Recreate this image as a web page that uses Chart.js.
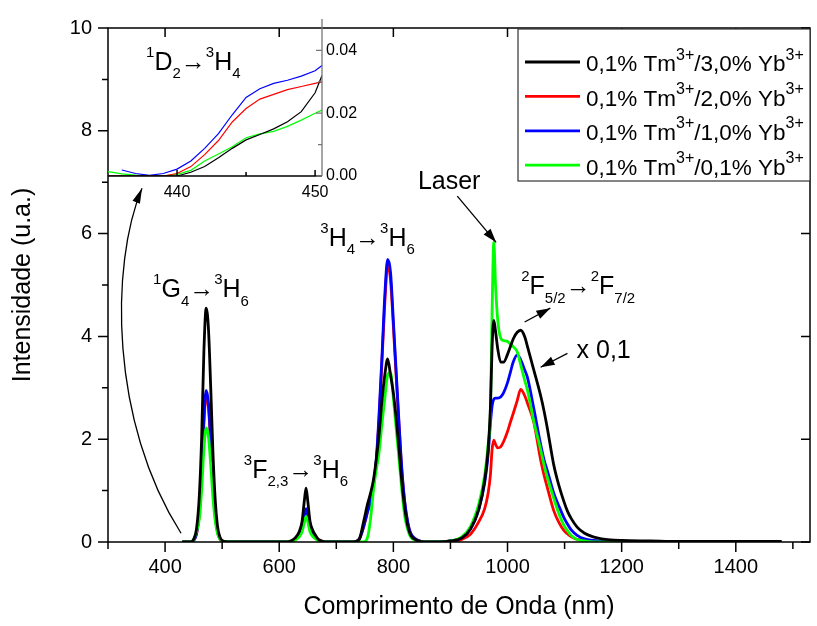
<!DOCTYPE html>
<html>
<head>
<meta charset="utf-8">
<script src="https://cdn.jsdelivr.net/npm/chart.js@4.4.0/dist/chart.umd.min.js"></script>
<style>
  html, body { margin: 0; padding: 0; background: #fff; }
  #wrap { position: relative; width: 817px; height: 626px; }
  #wrap canvas { position: absolute; left: 0; top: 0; }
</style>
</head>
<body>
<div id="wrap">
  <canvas id="main" width="817" height="626"></canvas>
  <canvas id="inset" width="817" height="626"></canvas>
</div>
<script>
const FONT = "'Liberation Sans', Arial, Helvetica, sans-serif";

// wavelength grid (nm), shared by the four spectra
const wavelength = [
  430, 440, 445, 450, 455, 460, 464, 468, 472, 476, 480, 484, 488, 492, 496, 502, 520,
  560, 600, 610, 620, 628, 635, 640, 644, 647, 650, 654, 658, 663, 668, 675, 685, 700,
  730, 740, 748, 755, 760, 765, 770, 775, 780, 785, 790, 795, 800, 805, 810, 815, 820, 825, 830, 840, 860,
  880, 900, 920, 935, 950, 960, 966, 970, 973, 976, 979, 983, 988, 993, 1000, 1005, 1010, 1017, 1023, 1030,
  1035, 1046, 1058, 1064, 1070, 1081, 1090, 1099, 1105, 1112, 1122, 1135, 1150, 1165, 1180, 1200, 1250, 1300, 1400, 1480
];

// 0,1% Tm / 3,0% Yb
const tm01_yb30 = [
  0, 0, 0, 0.05, 0.25, 0.9, 2.0, 3.7, 4.55, 4.15, 3.0, 1.7, 0.8, 0.3, 0.1, 0.02, 0,
  0, 0, 0, 0.02, 0.08, 0.2, 0.4, 0.8, 1.05, 0.8, 0.4, 0.25, 0.14, 0.06, 0.02, 0, 0,
  0, 0.05, 0.4, 0.75, 0.95, 1.2, 1.6, 2.1, 2.75, 3.25, 3.56, 3.25, 2.9, 2.4, 1.8, 1.15, 0.65, 0.32, 0.14, 0.04, 0,
  0, 0.02, 0.08, 0.25, 0.65, 1.2, 1.8, 2.6, 3.8, 4.31, 4.1, 3.75, 3.5, 3.5, 3.65, 3.8, 3.95, 4.08, 4.12, 4.0,
  3.8, 3.35, 2.85, 2.55, 2.2, 1.5, 1.1, 0.78, 0.6, 0.45, 0.29, 0.17, 0.1, 0.06, 0.04, 0.03, 0.02, 0.01, 0.01, 0.01
];
// 0,1% Tm / 2,0% Yb
const tm01_yb20 = [
  0, 0, 0, 0.03, 0.15, 0.55, 1.25, 2.3, 2.85, 2.62, 1.9, 1.07, 0.5, 0.19, 0.06, 0.01, 0,
  0, 0, 0, 0.01, 0.05, 0.12, 0.24, 0.46, 0.6, 0.48, 0.24, 0.15, 0.08, 0.04, 0.01, 0, 0,
  0, 0.05, 0.3, 0.6, 0.8, 1.1, 1.55, 2.4, 3.5, 4.65, 5.38, 5.1, 4.2, 3.2, 2.25, 1.35, 0.75, 0.38, 0.17, 0.05, 0,
  0, 0.01, 0.05, 0.15, 0.4, 0.65, 0.95, 1.3, 1.8, 1.98, 1.9, 1.83, 1.85, 1.95, 2.15, 2.33, 2.5, 2.75, 2.97, 2.85,
  2.7, 2.33, 1.6, 1.3, 1.05, 0.61, 0.38, 0.22, 0.16, 0.1, 0.05, 0.03, 0.02, 0.01, 0.01, 0.01, 0.01, 0.01, 0.01, 0.01
];
// 0,1% Tm / 1,0% Yb
const tm01_yb10 = [
  0, 0, 0, 0.03, 0.16, 0.58, 1.3, 2.4, 2.95, 2.7, 1.95, 1.1, 0.52, 0.2, 0.07, 0.01, 0,
  0, 0, 0, 0.01, 0.05, 0.13, 0.26, 0.5, 0.65, 0.52, 0.26, 0.16, 0.09, 0.04, 0.01, 0, 0,
  0, 0.05, 0.3, 0.6, 0.8, 1.1, 1.6, 2.5, 3.6, 4.8, 5.5, 5.25, 4.3, 3.3, 2.3, 1.4, 0.78, 0.4, 0.18, 0.05, 0,
  0, 0.02, 0.08, 0.25, 0.65, 1.15, 1.7, 2.3, 2.65, 2.78, 2.8, 2.8, 2.82, 2.9, 3.1, 3.3, 3.5, 3.64, 3.55, 3.35,
  3.2, 2.6, 1.9, 1.6, 1.38, 0.95, 0.7, 0.47, 0.35, 0.23, 0.13, 0.06, 0.03, 0.02, 0.01, 0, 0, 0, 0, 0
];
// 0,1% Tm / 0,1% Yb
const tm01_yb01 = [
  0, 0, 0, 0.04, 0.2, 0.45, 1.0, 1.8, 2.22, 2.05, 1.5, 0.85, 0.4, 0.16, 0.06, 0.01, 0,
  0, 0, 0, 0.01, 0.04, 0.1, 0.2, 0.38, 0.5, 0.4, 0.2, 0.12, 0.07, 0.03, 0.01, 0, 0,
  0, 0, 0, 0.1, 0.45, 1.0, 1.4, 1.75, 2.3, 2.8, 3.25, 3.3, 2.8, 2.2, 1.6, 1.0, 0.5, 0.25, 0.1, 0.03, 0,
  0, 0.02, 0.1, 0.3, 0.75, 1.3, 1.9, 2.5, 4.5, 5.84, 5.0, 4.3, 3.97, 3.92, 3.9, 3.85, 3.8, 3.7, 3.45, 3.15,
  2.95, 2.35, 1.8, 1.5, 1.25, 0.85, 0.55, 0.32, 0.22, 0.12, 0.05, 0.02, 0, 0, 0, 0, 0, 0, 0, 0
];

const seriesLabels = [
  '0,1% Tm^{3+}/3,0% Yb^{3+}',
  '0,1% Tm^{3+}/2,0% Yb^{3+}',
  '0,1% Tm^{3+}/1,0% Yb^{3+}',
  '0,1% Tm^{3+}/0,1% Yb^{3+}'
];
const seriesColors = ['#000000', '#ff0000', '#0000ff', '#00ff00'];
const drawOrder = [0, 3, 2, 1]; // black on top, red underneath

const xTicks = [400, 600, 800, 1000, 1200, 1400];
const xMinorTicks = [300, 500, 700, 900, 1100, 1300, 1500];
const yTicks = [0, 2, 4, 6, 8, 10];
const yMinorTicks = [1, 3, 5, 7, 9];

// inset: 1D2 -> 3H4 band
const insetWavelength = [435, 436, 437, 438, 439, 440, 441, 442, 443, 444, 445, 446, 447, 448, 449, 450, 450.5];
const insetYb30 = [0, 0, 0, 0, 0, 0, 0.0012, 0.003, 0.0058, 0.0088, 0.0115, 0.0132, 0.015, 0.0173, 0.0205, 0.0265, 0.032];
const insetYb20 = [0, 0, 0, 0, 0, 0.0008, 0.003, 0.0068, 0.0113, 0.0172, 0.0215, 0.0245, 0.026, 0.0275, 0.0285, 0.0295, 0.03];
const insetYb10 = [null, 0.0019, 0.0008, 0.0002, 0.0008, 0.0022, 0.0048, 0.0088, 0.0135, 0.0195, 0.025, 0.0278, 0.0295, 0.0305, 0.0318, 0.0335, 0.0352];
const insetYb01 = [0.0014, 0.0007, 0.0003, 0.0001, 0, 0.0005, 0.0018, 0.0048, 0.007, 0.0093, 0.0122, 0.0134, 0.0142, 0.0158, 0.0178, 0.02, 0.021];
const insetXTicks = [440, 450];
const insetXMinor = [445];
const insetYTicks = [0, 0.02, 0.04];
const insetYMinor = [0.01, 0.03];

// annotations, in data units of the main chart
const bandLabels = [
  { text: '^{1}G_{4}→^{3}H_{6}', x: 379, y: 4.76 },
  { text: '^{3}F_{2,3}→^{3}H_{6}', x: 538, y: 1.25 },
  { text: '^{3}H_{4}→^{3}H_{6}', x: 672, y: 5.76 },
  { text: 'Laser', x: 843, y: 6.87 },
  { text: '^{2}F_{5/2}→^{2}F_{7/2}', x: 1024, y: 4.82 },
  { text: 'x 0,1', x: 1121, y: 3.58 }
];
const straightArrows = [
  { from: [912, 6.73], to: [980, 5.83] },
  { from: [1030, 4.28], to: [1075, 4.55] },
  { from: [1105, 3.67], to: [1058, 3.40] }
];
// curved pointer from the 1D2 band to the inset (start, two control points, tip)
const curvedArrow = [[428, 0.17], [303.5, 2.33], [303.5, 5.39], [359.6, 6.88]];

function parseRich(str) {
  const parts = [];
  const re = /([\^_])\{([^}]*)\}|([^\^_]+)/g;
  let m;
  while ((m = re.exec(str))) {
    if (m[1]) parts.push({ t: m[2], mode: m[1] === '^' ? 'sup' : 'sub' });
    else parts.push({ t: m[3], mode: 'normal' });
  }
  return parts;
}

function drawRich(ctx, str, x, y, size, small) {
  ctx.textBaseline = 'alphabetic';
  ctx.textAlign = 'left';
  let cx = x;
  parseRich(str).forEach(p => {
    const s = p.mode === 'normal' ? size : small;
    ctx.font = s + 'px ' + FONT;
    const dy = p.mode === 'sup' ? -size * 0.52 : p.mode === 'sub' ? size * 0.34 : 0;
    ctx.fillText(p.t, cx, y + dy);
    cx += ctx.measureText(p.t).width;
  });
}

function arrowHead(ctx, tx, ty, fx, fy, len, half) {
  const a = Math.atan2(ty - fy, tx - fx);
  const bx = tx - len * Math.cos(a), by = ty - len * Math.sin(a);
  ctx.beginPath();
  ctx.moveTo(tx, ty);
  ctx.lineTo(bx + half * Math.sin(a), by - half * Math.cos(a));
  ctx.lineTo(bx - half * Math.sin(a), by + half * Math.cos(a));
  ctx.closePath();
  ctx.fill();
}

const framePlugin = {
  id: 'frame',
  afterDraw(chart) {
    const { ctx, chartArea: a, scales: { x, y } } = chart;
    ctx.save();
    ctx.strokeStyle = '#000';
    ctx.fillStyle = '#000';
    ctx.lineWidth = 1.5;
    ctx.strokeRect(a.left, a.top, a.right - a.left, a.bottom - a.top);

    ctx.beginPath();
    xTicks.forEach(v => {
      const p = x.getPixelForValue(v);
      ctx.moveTo(p, a.bottom); ctx.lineTo(p, a.bottom + 10);
      ctx.moveTo(p, a.top); ctx.lineTo(p, a.top + 9);
    });
    xMinorTicks.forEach(v => {
      const p = x.getPixelForValue(v);
      ctx.moveTo(p, a.bottom); ctx.lineTo(p, a.bottom + 7);
    });
    yTicks.forEach(v => {
      const p = y.getPixelForValue(v);
      ctx.moveTo(a.left - 10, p); ctx.lineTo(a.left, p);
      ctx.moveTo(a.right - 9, p); ctx.lineTo(a.right, p);
    });
    yMinorTicks.forEach(v => {
      const p = y.getPixelForValue(v);
      ctx.moveTo(a.left - 6, p); ctx.lineTo(a.left, p);
    });
    ctx.stroke();

    // band labels
    bandLabels.forEach(b => {
      drawRich(ctx, b.text, x.getPixelForValue(b.x), y.getPixelForValue(b.y), 25, 15);
    });

    // straight arrows
    ctx.lineWidth = 1.3;
    straightArrows.forEach(ar => {
      const fx = x.getPixelForValue(ar.from[0]), fy = y.getPixelForValue(ar.from[1]);
      const tx = x.getPixelForValue(ar.to[0]), ty = y.getPixelForValue(ar.to[1]);
      ctx.beginPath(); ctx.moveTo(fx, fy); ctx.lineTo(tx, ty); ctx.stroke();
      arrowHead(ctx, tx, ty, fx, fy, 14, 4.5);
    });

    // curved arrow to the inset
    const c = curvedArrow.map(p => [x.getPixelForValue(p[0]), y.getPixelForValue(p[1])]);
    ctx.beginPath();
    ctx.moveTo(c[0][0], c[0][1]);
    ctx.bezierCurveTo(c[1][0], c[1][1], c[2][0], c[2][1], c[3][0], c[3][1]);
    ctx.stroke();
    arrowHead(ctx, c[3][0], c[3][1], c[2][0], c[2][1], 15, 4);

    // legend box
    const lx = a.right - 292, ly = 29, lw = 292, lh = 152;
    ctx.fillStyle = '#fff';
    ctx.fillRect(lx, ly, lw, lh);
    ctx.strokeStyle = '#333';
    ctx.lineWidth = 1.2;
    ctx.strokeRect(lx, ly, lw, lh);
    seriesLabels.forEach((lab, i) => {
      const rowY = ly + 33 + i * 34.4;
      ctx.strokeStyle = seriesColors[i];
      ctx.lineWidth = 2.8;
      ctx.beginPath(); ctx.moveTo(lx + 7, rowY); ctx.lineTo(lx + 62, rowY); ctx.stroke();
      ctx.fillStyle = '#000';
      drawRich(ctx, lab, lx + 68, rowY + 9.3, 22.5, 16);
    });
    ctx.restore();
  }
};

const spectra = [tm01_yb30, tm01_yb20, tm01_yb10, tm01_yb01];

new Chart(document.getElementById('main'), {
  type: 'line',
  data: {
    datasets: spectra.map((s, i) => ({
      label: seriesLabels[i],
      data: wavelength.map((w, j) => ({ x: w, y: s[j] })),
      borderColor: seriesColors[i],
      borderWidth: 2.8,
      order: drawOrder[i],
      cubicInterpolationMode: 'monotone',
      pointRadius: 0
    }))
  },
  options: {
    responsive: false,
    animation: false,
    devicePixelRatio: 1,
    layout: { padding: { left: 0, right: 7, top: 19, bottom: 0 } },
    plugins: { legend: { display: false }, tooltip: { enabled: false } },
    scales: {
      x: {
        type: 'linear', min: 300, max: 1530,
        afterBuildTicks: s => { s.ticks = xTicks.map(v => ({ value: v })); },
        afterFit: s => { s.height = 84; },
        grid: { display: false, drawTicks: false }, border: { display: false },
        ticks: { color: '#000', font: { family: FONT, size: 20 }, padding: 13, maxRotation: 0, callback: v => String(v) },
        title: { display: true, text: 'Comprimento de Onda (nm)', color: '#000',
                 font: { family: FONT, size: 25 }, padding: { top: 0, bottom: 4 } }
      },
      y: {
        type: 'linear', min: 0, max: 10,
        afterBuildTicks: s => { s.ticks = yTicks.map(v => ({ value: v })); },
        afterFit: s => { s.width = 108; },
        grid: { display: false, drawTicks: false }, border: { display: false },
        ticks: { color: '#000', font: { family: FONT, size: 20 }, padding: 16, callback: v => String(v) },
        title: { display: true, text: 'Intensidade (u.a.)', color: '#000',
                 font: { family: FONT, size: 25 }, padding: { top: 8, bottom: 0 } }
      }
    }
  },
  plugins: [framePlugin]
});

// ---- inset ----
const insetFrame = {
  id: 'insetFrame',
  afterDraw(chart) {
    const { ctx, chartArea: a, scales: { x, y } } = chart;
    ctx.save();
    ctx.lineWidth = 1.5;
    ctx.strokeStyle = '#000';
    ctx.beginPath();
    ctx.moveTo(a.left, a.bottom); ctx.lineTo(a.right, a.bottom);
    insetXTicks.forEach(v => { const p = x.getPixelForValue(v); ctx.moveTo(p, a.bottom); ctx.lineTo(p, a.bottom - 6); });
    insetXMinor.forEach(v => { const p = x.getPixelForValue(v); ctx.moveTo(p, a.bottom); ctx.lineTo(p, a.bottom - 4); });
    ctx.stroke();
    ctx.strokeStyle = '#777';
    ctx.lineWidth = 1.3;
    ctx.beginPath();
    ctx.moveTo(a.right, a.top); ctx.lineTo(a.right, a.bottom);
    insetYTicks.forEach(v => { const p = y.getPixelForValue(v); ctx.moveTo(a.right, p); ctx.lineTo(a.right - 6, p); });
    insetYMinor.forEach(v => { const p = y.getPixelForValue(v); ctx.moveTo(a.right, p); ctx.lineTo(a.right - 4, p); });
    ctx.stroke();
    ctx.fillStyle = '#000';
    drawRich(ctx, '^{1}D_{2}→^{3}H_{4}', x.getPixelForValue(437.76), y.getPixelForValue(0.0339), 25, 15);
    ctx.restore();
  }
};

const insetSeries = [insetYb30, insetYb20, insetYb10, insetYb01];

new Chart(document.getElementById('inset'), {
  type: 'line',
  data: {
    datasets: insetSeries.map((s, i) => ({
      data: insetWavelength.map((w, j) => ({ x: w, y: s[j] })),
      borderColor: seriesColors[i],
      borderWidth: 1.2,
      pointRadius: 0,
      tension: 0
    }))
  },
  options: {
    responsive: false,
    animation: false,
    devicePixelRatio: 1,
    layout: { padding: { left: 108, right: 445, top: 19, bottom: 420 } },
    plugins: { legend: { display: false }, tooltip: { enabled: false } },
    scales: {
      x: {
        type: 'linear', min: 435, max: 450.5,
        afterBuildTicks: s => { s.ticks = insetXTicks.map(v => ({ value: v })); },
        afterFit: s => { s.height = 30; },
        grid: { display: false, drawTicks: false }, border: { display: false },
        ticks: { color: '#000', font: { family: FONT, size: 16 }, padding: 7, maxRotation: 0, callback: v => String(v) }
      },
      y: {
        type: 'linear', position: 'right', min: 0, max: 0.05,
        afterBuildTicks: s => { s.ticks = insetYTicks.map(v => ({ value: v })); },
        afterFit: s => { s.width = 50; },
        grid: { display: false, drawTicks: false }, border: { display: false },
        ticks: { color: '#000', font: { family: FONT, size: 16 }, padding: 4, callback: v => v.toFixed(2) }
      }
    }
  },
  plugins: [insetFrame]
});
</script>
</body>
</html>
